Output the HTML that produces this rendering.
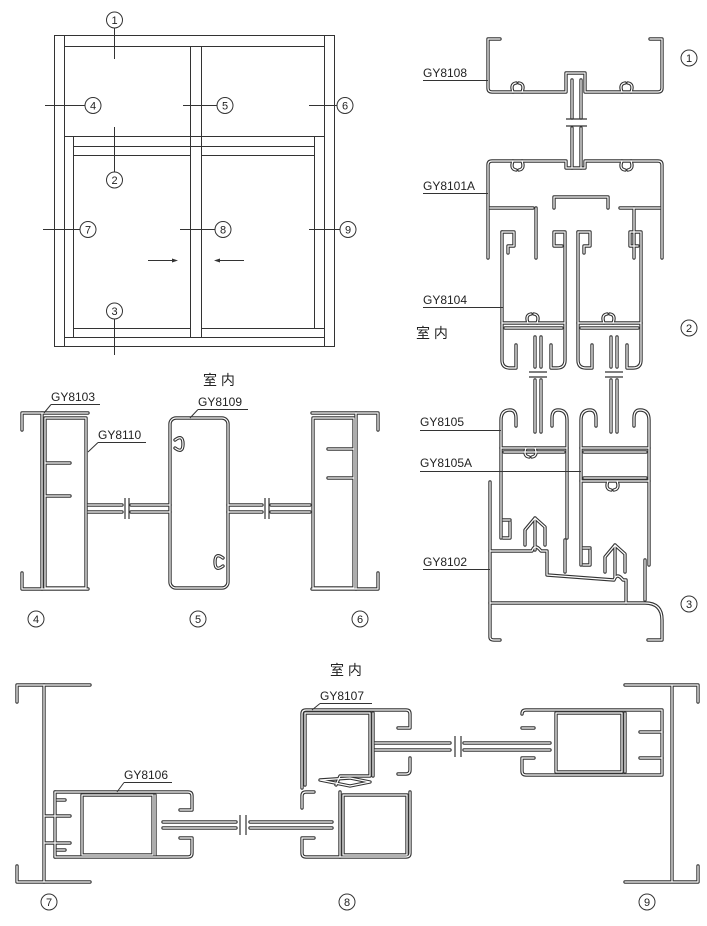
<!DOCTYPE html>
<html><head><meta charset="utf-8"><style>
html,body{margin:0;padding:0;background:#fff}
svg{display:block}
text{font-family:"Liberation Sans","Noto Sans CJK SC",sans-serif;fill:#222}
</style></head><body>
<svg width="707" height="926" viewBox="0 0 707 926" xmlns="http://www.w3.org/2000/svg">
<defs>
<g id="prof" fill="none" stroke-linejoin="round" stroke-linecap="round">
  <!-- 1: GY8108 -->
  <path d="M500,39 H488 V88 Q488,92 492,92 H566 V73 H585 V92 H658 Q662,92 662,88 V39 H650"/>
  <path d="M572,80 V118 M581,80 V118 M572,128 V168 M581,128 V168"/>
  <path d="M513,92 q-3,-8 3,-9 M522,92 q3,-8 -3,-9 M622,92 q-3,-8 3,-9 M631,92 q3,-8 -3,-9"/>
  <!-- 2: GY8101A -->
  <path d="M488,258 V165 Q488,161 492,161 H566 V168 H585 V161 H658 Q662,161 662,165 V258"/>
  <path d="M490,208 H533 M554,208 V197 H608 V208 M620,208 H660"/>
  <path d="M536,208 V258 M634,208 V258"/>
  <path d="M513,161 q-3,8 3,9 M522,161 q3,8 -3,9 M622,161 q-3,8 3,9 M631,161 q3,8 -3,9"/>
  <!-- GY8104 sashes -->
  <path d="M502,232 V360 Q502,368 510,368 H516 V345 M565,232 V360 Q565,368 557,368 H551 V345"/>
  <path d="M502,232 H514 V246 H508 V253 M554,232 H564 M554,232 V246 H562"/>
  <path d="M502,323 H565 M505,328 H562"/>
  <path d="M578,232 V360 Q578,368 586,368 H592 V345 M641,232 V360 Q641,368 633,368 H627 V345"/>
  <path d="M578,232 H590 V246 H584 V253 M630,232 H640 M630,232 V246 H638"/>
  <path d="M578,323 H641 M581,328 H638"/>
  <path d="M528,323 q-3,-8 3,-9 M537,323 q3,-8 -3,-9 M604,323 q-3,-8 3,-9 M613,323 q3,-8 -3,-9"/>
  <path d="M535,337 V367 M541,337 V367 M611,337 V367 M617,337 V367"/>
  <!-- glass 2-3 -->
  <path d="M535,380 V432 M541,380 V432 M611,380 V432 M617,380 V432"/>
  <!-- GY8105 left sash -->
  <path d="M501,538 V420 Q501,410 510,410 Q516,410 516,418 V426 M567,538 V420 Q567,410 558,410 Q552,410 552,418 V426"/>
  <path d="M501,448 H567 M504,452 H564"/>
  <path d="M503,538 H510 V522 M503,520 H510"/>
  <path d="M526,448 q-3,8 3,9 M535,448 q3,8 -3,9"/>
  <!-- GY8105A right sash -->
  <path d="M581,565 V420 Q581,410 590,410 Q596,410 596,418 V426 M649,565 V420 Q649,410 640,410 Q634,410 634,418 V426"/>
  <path d="M581,448 H649 M584,452 H646 M584,478 H646 M581,481 H649"/>
  <path d="M608,481 q-3,8 3,9 M617,481 q3,8 -3,9"/>
  <path d="M583,565 H590 V550 M583,548 H590"/>
  <!-- interlock hooks -->
  <path d="M525,545 V530 L535,518 L545,527 V545 M535,518 V550"/>
  <path d="M605,572 V557 L615,545 L625,554 V572 M615,545 V577"/>
  <!-- GY8102 frame -->
  <path d="M490,482 V637 Q490,640 494,640 H500"/>
  <path d="M490,551 H532 q3,-8 9,0 H547 V575 L614,580 q3,-8 9,0 H626 V603"/>
  <path d="M490,603 H645 Q662,603 662,620 V640 H648"/>
  <path d="M565,540 V572 M645,560 V600"/>
  <!-- 4 -->
  <path d="M22,430 V413 H88 M22,573 V589 H88"/>
  <path d="M42,413 V589 M45,418 V588 M45,418 H86 V588 H45"/>
  <path d="M45,463 H70 M45,496 H70"/>
  <path d="M88,505 H122 M88,512 H122 M131,505 H170 M131,512 H170"/>
  <!-- 5 GY8109 -->
  <rect x="170" y="418" width="58" height="170" rx="6"/>
  <path d="M175,440 q8,-6 8,4 M175,448 q8,6 8,-4 M223,558 q-8,-6 -8,4 M223,566 q-8,6 -8,-4"/>
  <path d="M228,505 H262 M228,512 H262 M271,505 H310 M271,512 H310"/>
  <!-- 6 -->
  <path d="M378,430 V413 H312 M378,573 V589 H312"/>
  <path d="M356,413 V589 M354,418 V588 M354,418 H313 V588 H354"/>
  <path d="M354,449 H328 M354,478 H328"/>
  <!-- 7 -->
  <path d="M17,702 V685 H90 M17,866 V882 H90"/>
  <path d="M44,685 V882 M44,816 H70 M44,843 H70"/>
  <path d="M55,792 H188 Q192,792 192,796 V810 H180 M55,857 H188 Q192,857 192,853 V838 H180"/>
  <path d="M55,792 V857 M57,800 H65 M57,850 H65 M82,795 V855 H153 V795 Z M155,795 V855"/>
  <path d="M163,822 H236 M163,828 H236 M250,822 H332 M250,828 H332"/>
  <!-- 8 upper GY8107 -->
  <path d="M302,788 V714 Q302,710 306,710 H406 Q410,710 410,714 V728 H398 M410,758 V770 Q410,774 406,774 H398"/>
  <path d="M305,785 V713 H370 V776 H340 L336,785 M373,713 V776"/>
  <path d="M375,743 H450 M375,750 H450 M464,743 H550 M464,750 H550"/>
  <path d="M320,780 L350,778 L370,782 L350,786 Z"/>
  <!-- 8 lower -->
  <path d="M410,792 V853 Q410,857 406,857 H306 Q302,857 302,853 V838 H314 M302,808 V796 Q302,792 306,792 H314"/>
  <path d="M340,792 V857 M343,795 V855 H407 V795 Z"/>
  <!-- 9 -->
  <path d="M522,714 Q522,710 526,710 H662 V775 H526 Q522,775 522,771 V758 H534 M522,728 H534"/>
  <path d="M556,713 V772 H622 V713 Z M625,713 V772 M640,732 H662 M640,758 H662"/>
  <path d="M625,685 H698 V702 M625,882 H698 V866 M672,685 V882"/>
</g>
</defs>

<use href="#prof" stroke="#333" stroke-width="3.4"/>
<use href="#prof" stroke="#fff" stroke-width="1.2"/>

<!-- glass break marks -->
<g stroke="#333" stroke-width="1.2">
  <line x1="566" y1="119" x2="587" y2="119"/><line x1="566" y1="126" x2="587" y2="126"/>
  <line x1="529" y1="372" x2="547" y2="372"/><line x1="529" y1="377" x2="547" y2="377"/>
  <line x1="605" y1="372" x2="623" y2="372"/><line x1="605" y1="377" x2="623" y2="377"/>
  <line x1="125" y1="498" x2="125" y2="519"/><line x1="129" y1="498" x2="129" y2="519"/>
  <line x1="265" y1="498" x2="265" y2="519"/><line x1="269" y1="498" x2="269" y2="519"/>
  <line x1="240" y1="815" x2="240" y2="835"/><line x1="246" y1="815" x2="246" y2="835"/>
  <line x1="455" y1="736" x2="455" y2="757"/><line x1="461" y1="736" x2="461" y2="757"/>
</g>

<!-- Elevation -->
<g stroke="#333" stroke-width="1" fill="none">
  <rect x="54.5" y="35.5" width="280" height="311"/>
  <line x1="64.5" y1="35.5" x2="64.5" y2="346.5"/>
  <line x1="324.5" y1="35.5" x2="324.5" y2="346.5"/>
  <line x1="64.5" y1="46.5" x2="324.5" y2="46.5"/>
  <line x1="64.5" y1="136.5" x2="324.5" y2="136.5"/>
  <line x1="73.5" y1="146.5" x2="314.5" y2="146.5"/>
  <line x1="73.5" y1="155.5" x2="190.5" y2="155.5"/>
  <line x1="201.5" y1="155.5" x2="314.5" y2="155.5"/>
  <line x1="73.5" y1="136.5" x2="73.5" y2="337.5"/>
  <line x1="314.5" y1="136.5" x2="314.5" y2="328.5"/>
  <line x1="190.5" y1="46.5" x2="190.5" y2="337.5"/>
  <line x1="201.5" y1="46.5" x2="201.5" y2="337.5"/>
  <line x1="64.5" y1="337.5" x2="324.5" y2="337.5"/>
  <line x1="73.5" y1="328.5" x2="190.5" y2="328.5"/>
  <line x1="201.5" y1="328.5" x2="324.5" y2="328.5"/>
  <line x1="114.5" y1="28" x2="114.5" y2="59"/>
  <line x1="114.5" y1="127" x2="114.5" y2="172"/>
  <line x1="114.5" y1="319" x2="114.5" y2="355"/>
  <line x1="45" y1="105.5" x2="85" y2="105.5"/>
  <line x1="183" y1="105.5" x2="217" y2="105.5"/>
  <line x1="309" y1="105.5" x2="337" y2="105.5"/>
  <line x1="43" y1="229.5" x2="80" y2="229.5"/>
  <line x1="180" y1="229.5" x2="215" y2="229.5"/>
  <line x1="309" y1="229.5" x2="340" y2="229.5"/>
  <line x1="148" y1="260.5" x2="176" y2="260.5"/>
  <line x1="216" y1="260.5" x2="244" y2="260.5"/>
</g>
<path d="M178,260.5 l-6,-2 v4z M214,260.5 l6,-2 v4z" fill="#333"/>

<!-- circled numbers -->
<g fill="none" stroke="#333" stroke-width="1">
  <circle cx="114.5" cy="20" r="8"/><circle cx="93" cy="105.5" r="8"/><circle cx="225" cy="105.5" r="8"/>
  <circle cx="345" cy="105.5" r="8"/><circle cx="114.5" cy="180" r="8"/><circle cx="88" cy="229.5" r="8"/>
  <circle cx="223" cy="229.5" r="8"/><circle cx="348" cy="229.5" r="8"/><circle cx="114.5" cy="311" r="8"/>
  <circle cx="689" cy="58" r="8"/><circle cx="689" cy="328" r="8"/><circle cx="689" cy="604" r="8"/>
  <circle cx="36" cy="619" r="8"/><circle cx="198" cy="619" r="8"/><circle cx="360" cy="619" r="8"/>
  <circle cx="49" cy="902" r="8"/><circle cx="347" cy="902" r="8"/><circle cx="647" cy="902" r="8"/>
</g>
<g font-size="11" text-anchor="middle">
  <text x="114.5" y="24">1</text><text x="93" y="109.5">4</text><text x="225" y="109.5">5</text>
  <text x="345" y="109.5">6</text><text x="114.5" y="184">2</text><text x="88" y="233.5">7</text>
  <text x="223" y="233.5">8</text><text x="348" y="233.5">9</text><text x="114.5" y="315">3</text>
  <text x="689" y="62">1</text><text x="689" y="332">2</text><text x="689" y="608">3</text>
  <text x="36" y="623">4</text><text x="198" y="623">5</text><text x="360" y="623">6</text>
  <text x="49" y="906">7</text><text x="347" y="906">8</text><text x="647" y="906">9</text>
</g>

<!-- labels -->
<g font-size="12">
  <text x="423" y="77">GY8108</text>
  <text x="423" y="190">GY8101A</text>
  <text x="423" y="304">GY8104</text>
  <text x="420" y="426">GY8105</text>
  <text x="420" y="467">GY8105A</text>
  <text x="423" y="566">GY8102</text>
  <text x="51" y="401">GY8103</text>
  <text x="98" y="439">GY8110</text>
  <text x="198" y="406">GY8109</text>
  <text x="124" y="779">GY8106</text>
  <text x="320" y="700">GY8107</text>
</g>
<g font-size="14">
  <text x="416" y="338">室 内</text>
  <text x="203" y="385">室 内</text>
  <text x="330" y="675">室 内</text>
</g>
<g stroke="#333" stroke-width="1" fill="none">
  <path d="M423,80.5 H488"/>
  <path d="M423,193.5 H488"/>
  <path d="M423,307.5 H503"/>
  <path d="M420,430.5 H501"/>
  <path d="M420,471.5 H581"/>
  <path d="M423,569.5 H490"/>
  <path d="M51,404.5 H100 M51,404.5 L44,413"/>
  <path d="M98,442.5 H146 M98,442.5 L88,452"/>
  <path d="M198,409.5 H248 M198,409.5 L190,418"/>
  <path d="M124,782.5 H172 M124,782.5 L117,792"/>
  <path d="M320,703.5 H372 M320,703.5 L312,710"/>
</g>
</svg>
</body></html>
